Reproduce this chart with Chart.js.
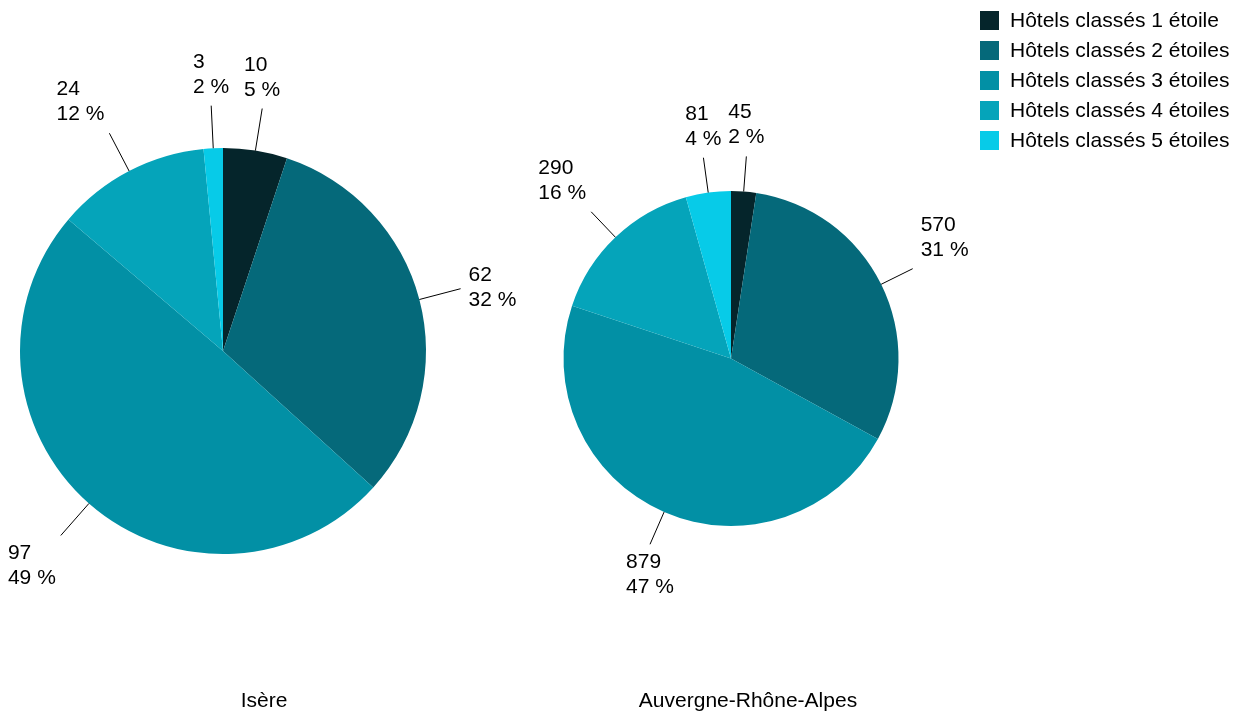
<!DOCTYPE html>
<html>
<head>
<meta charset="utf-8">
<script src="https://cdn.jsdelivr.net/npm/chart.js@4.4.0/dist/chart.umd.min.js"></script>
<style>
body { margin: 0; background: #fff; font-family: "Liberation Sans", Arial, sans-serif; }
#wrap { position: relative; width: 1244px; height: 713px; }
#wrap canvas { position: absolute; left: 0; top: 0; }
#legend { position: absolute; left: 980px; top: 5px; font-size: 21px; color: #000; }
#legend .row { display: flex; align-items: center; height: 30px; }
#legend .box { width: 19px; height: 19px; margin-right: 11px; }
</style>
</head>
<body>
<div id="wrap">
  <canvas id="isere" width="1244" height="713"></canvas>
  <canvas id="ara" width="1244" height="713"></canvas>
  <div id="legend"></div>
</div>
<script>
// categories
var categories = ['Hôtels classés 1 étoile', 'Hôtels classés 2 étoiles', 'Hôtels classés 3 étoiles',
    'Hôtels classés 4 étoiles', 'Hôtels classés 5 étoiles'];
var colors = ['#05252b', '#05697a', '#0290a5', '#05a4ba', '#07cbe8'];

// nombre d'hôtels
var isereValues = [10, 62, 97, 24, 3];
var araValues = [45, 570, 879, 290, 81];

var FONT = '21px "Liberation Sans", Arial, sans-serif';

// étiquettes avec trait
var pieLabels = {
    id: 'pieLabels',
    afterDatasetsDraw(chart, args, opts) {
        var ctx = chart.ctx;
        var meta = chart.getDatasetMeta(0);
        var values = chart.data.datasets[0].data;
        var total = values.reduce(function (a, b) { return a + b; }, 0);
        ctx.save();
        ctx.font = FONT;
        ctx.fillStyle = '#000';
        ctx.strokeStyle = '#000';
        ctx.lineWidth = 1;
        ctx.textBaseline = 'alphabetic';
        ctx.textAlign = 'left';
        meta.data.forEach(function (arc, i) {
            var p = arc.getProps(['x', 'y', 'startAngle', 'endAngle', 'outerRadius'], true);
            var mid = (p.startAngle + p.endAngle) / 2;
            var dx = Math.cos(mid), dy = Math.sin(mid);
            var r2 = p.outerRadius * 1.21;
            var ex = p.x + dx * r2, ey = p.y + dy * r2;
            ctx.beginPath();
            ctx.moveTo(p.x + dx * p.outerRadius, p.y + dy * p.outerRadius);
            ctx.lineTo(ex, ey);
            ctx.stroke();

            var lines = [String(values[i]), Math.round(values[i] / total * 100) + ' %'];
            var w = Math.max(ctx.measureText(lines[0]).width, ctx.measureText(lines[1]).width);
            var left;
            if (dx > 0.42) left = ex + 8;
            else if (dx < -0.42) left = ex - 5 - w;
            else left = ex - w / 2;
            var b1;
            if (dy < -0.35) b1 = ey - 13 - 25;
            else if (dy > 0.35) b1 = ey + 24;
            else b1 = ey - 8;
            ctx.fillText(lines[0], left, b1);
            ctx.fillText(lines[1], left, b1 + 25);
        });
        // titre sous le graphique
        ctx.textAlign = 'center';
        ctx.fillText(opts.title, opts.titleX, 707);
        ctx.restore();
    }
};

function createPie(id, values, padding, title, titleX) {
    var ctx = document.getElementById(id);
    return new Chart(ctx, {
        type: 'pie',
        data: {
            labels: categories,
            datasets: [{
                data: values,
                backgroundColor: colors,
                borderWidth: 0
            }]
        },
        options: {
            responsive: false,
            animation: false,
            layout: { padding: padding },
            plugins: {
                legend: { display: false },
                tooltip: { enabled: false },
                pieLabels: { title: title, titleX: titleX }
            }
        },
        plugins: [pieLabels]
    });
}

createPie('isere', isereValues, { left: 20, right: 818, top: 148, bottom: 159 }, 'Isère', 264);
createPie('ara', araValues, { left: 563, right: 345, top: 191, bottom: 187 }, 'Auvergne-Rhône-Alpes', 748);

// légende
var legendEl = document.getElementById('legend');
for (var i = 0; i < categories.length; i++) {
    var row = document.createElement('div');
    row.className = 'row';
    var box = document.createElement('div');
    box.className = 'box';
    box.style.background = colors[i];
    var txt = document.createElement('span');
    txt.textContent = categories[i];
    row.appendChild(box);
    row.appendChild(txt);
    legendEl.appendChild(row);
}
</script>
</body>
</html>
